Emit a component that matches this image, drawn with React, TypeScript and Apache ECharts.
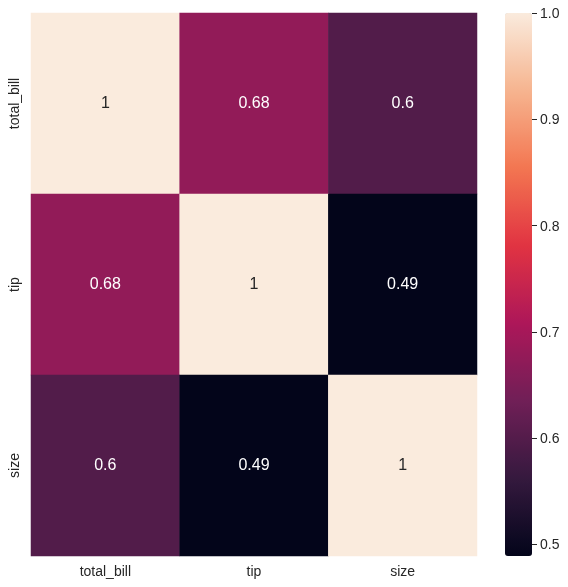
import React, { useEffect, useRef } from "react";
import * as echarts from "echarts";

const variables = ["total_bill", "tip", "size"];
const corrRows = [
  [1, 0.676, 0.598],
  [0.676, 1, 0.489],
  [0.598, 0.489, 1],
];
const colorbarTicks = [0.5, 0.6, 0.7, 0.8, 0.9, 1.0];
const rocketStops = [
  "#03051A",
  "#35193E",
  "#701F57",
  "#AD1759",
  "#E13342",
  "#F37651",
  "#F6B48F",
  "#FAEBDD",
];

const FONT = "'Liberation Sans', Arial, sans-serif";
const TEXT = "#262626";

export default function App() {
  const ref = useRef<HTMLDivElement>(null);
  useEffect(() => {
    const chart = echarts.init(ref.current!, null, { renderer: "svg" });
    const data: number[][] = [];
    corrRows.forEach((row, i) => row.forEach((v, j) => data.push([j, i, v])));
    const all = corrRows.flat();
    const vmin = Math.min(...all);
    const vmax = Math.max(...all);
    chart.setOption({
      animation: false,
      textStyle: { fontFamily: FONT },
      grid: [
        { left: 31, top: 13, width: 446, height: 543, containLabel: false },
        { left: 505, top: 13, width: 27, height: 543, containLabel: false },
      ],
      xAxis: [
        {
          type: "category",
          gridIndex: 0,
          data: variables,
          axisLine: { show: false },
          axisTick: { show: false },
          splitLine: { show: false },
          axisLabel: { fontSize: 14, color: TEXT, margin: 8, fontFamily: FONT },
        },
        { type: "category", gridIndex: 1, data: [""], show: false },
      ],
      yAxis: [
        {
          type: "category",
          gridIndex: 0,
          data: variables,
          inverse: true,
          axisLine: { show: false },
          axisTick: { show: false },
          splitLine: { show: false },
          axisLabel: { fontSize: 14, color: TEXT, rotate: 90, margin: 10, fontFamily: FONT },
        },
        {
          type: "value",
          gridIndex: 1,
          min: vmin,
          max: vmax,
          position: "right",
          axisLine: { show: false },
          splitLine: { show: false },
          axisTick: {
            show: true,
            length: 5,
            customValues: colorbarTicks,
            lineStyle: { color: TEXT, width: 1 },
          },
          axisLabel: {
            customValues: colorbarTicks,
            fontSize: 14,
            color: TEXT,
            margin: 8,
            fontFamily: FONT,
            formatter: (v: number) => v.toFixed(1),
          },
        },
      ],
      visualMap: {
        type: "continuous",
        seriesIndex: 0,
        min: vmin,
        max: vmax,
        calculable: false,
        hoverLink: false,
        orient: "vertical",
        left: 505,
        top: 13,
        itemWidth: 27,
        itemHeight: 543,
        padding: 0,
        inRange: { color: rocketStops },
      },
      series: [
        {
          type: "heatmap",
          xAxisIndex: 0,
          yAxisIndex: 0,
          data,
          itemStyle: { borderWidth: 0 },
          emphasis: { disabled: true },
          label: {
            show: true,
            fontFamily: FONT,
            offset: [0, -1.5],
            formatter: (p: any) => {
              const v = p.value[2];
              const t = String(parseFloat(v.toPrecision(2)));
              return v > 0.9 ? `{d|${t}}` : `{l|${t}}`;
            },
            rich: {
              d: { color: TEXT, fontSize: 16, fontFamily: FONT },
              l: { color: "#ffffff", fontSize: 16, fontFamily: FONT },
            },
          },
        },
        {
          type: "scatter",
          xAxisIndex: 1,
          yAxisIndex: 1,
          data: [],
        },
      ],
    });
    return () => chart.dispose();
  }, []);
  return (
    <div
      ref={ref}
      style={{ position: "fixed", left: 0, top: 0, width: 568, height: 587 }}
    />
  );
}
